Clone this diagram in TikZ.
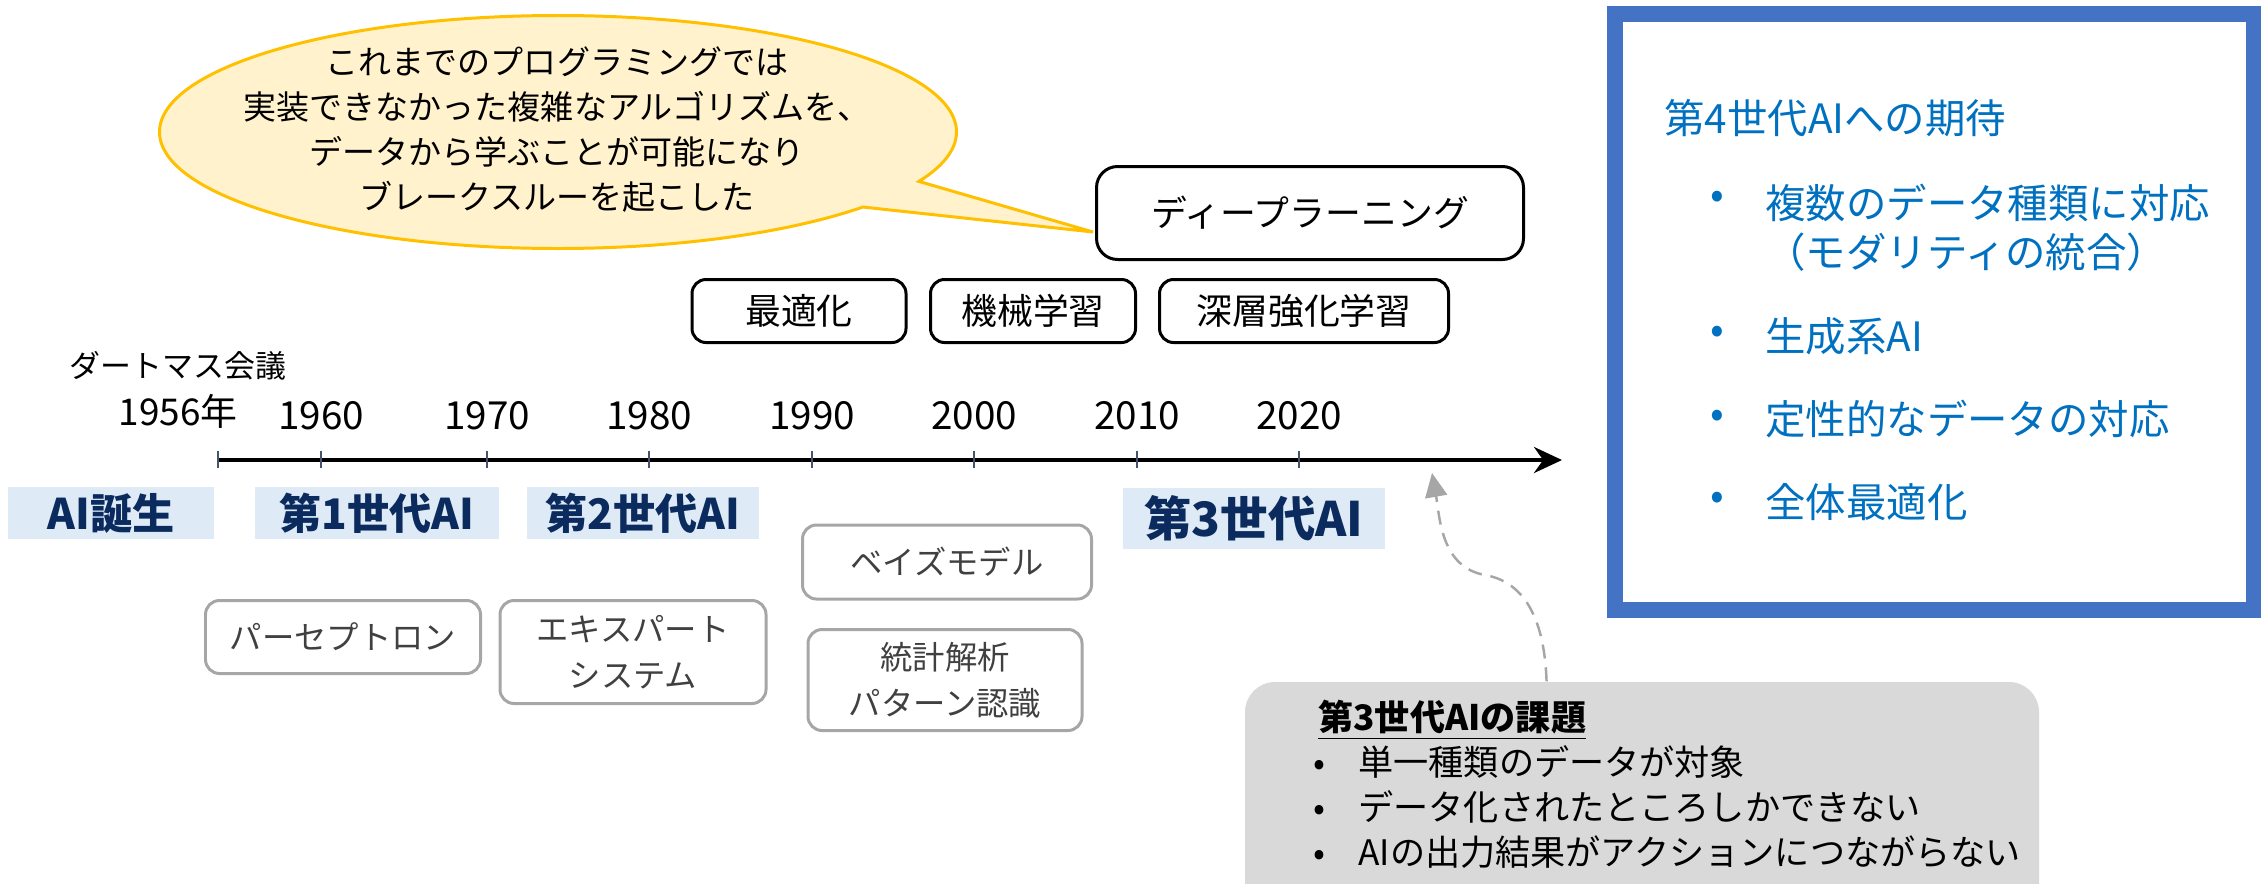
\documentclass[tikz,border=0pt]{standalone}
\usepackage{fontspec}
\setmainfont{Noto Sans CJK JP}
\usepackage{tikz}
\usetikzlibrary{
  arrows.meta,
  positioning,
  shapes.callouts,
  calc
}
\definecolor{bubblefill}{HTML}{FFF2CC}
\definecolor{bubbleline}{HTML}{FFC000}
\definecolor{erafill}{HTML}{DEEBF7}
\definecolor{eratext}{HTML}{0B2A5E}
\definecolor{methodline}{HTML}{A6A6A6}
\definecolor{methodtext}{HTML}{404040}
\definecolor{tickcol}{HTML}{44546A}
\definecolor{framecol}{HTML}{4472C4}
\definecolor{wishcol}{HTML}{0070C0}
\definecolor{issuefill}{HTML}{D9D9D9}
\definecolor{hintcol}{HTML}{A6A6A6}

\begin{document}
\begin{tikzpicture}[
  font=\fontsize{10}{12}\selectfont,
  bubble/.style={
    ellipse callout, draw=bubbleline, fill=bubblefill, line width=0.85pt,
    minimum width=7.97cm, minimum height=2.33cm, inner sep=0pt
  },
  bubbletext/.style={align=center, font=\fontsize{9.4}{12.8}\selectfont},
  topic/.style={
    rectangle, rounded corners=4pt, draw=black, line width=0.85pt,
    minimum height=0.63cm, inner sep=0pt, font=\fontsize{10.2}{12}\selectfont
  },
  era/.style={
    rectangle, fill=erafill, text=eratext, minimum height=0.52cm,
    inner sep=0pt, font=\fontsize{12}{14}\selectfont\bfseries
  },
  method/.style={
    rectangle, rounded corners=4pt, draw=methodline, line width=0.85pt,
    text=methodtext, align=center, inner sep=0pt,
    font=\fontsize{9.2}{13}\selectfont
  },
  year/.style={font=\fontsize{11}{13}\selectfont},
  tickmark/.style={draw=tickcol, line width=0.6pt},
  axis/.style={-{Stealth[length=0.28cm, width=0.26cm]}, line width=1.1pt, black},
  frame/.style={
    rectangle, draw=framecol, line width=0.16cm,
    minimum width=6.39cm, minimum height=5.96cm, inner sep=0pt
  },
  wish/.style={text=wishcol, font=\fontsize{11.5}{13.9}\selectfont, align=left, anchor=west},
  issue/.style={
    rectangle, rounded corners=0.3cm, fill=issuefill,
    minimum width=7.94cm, minimum height=2.6cm
  },
  issueline/.style={font=\fontsize{10}{12}\selectfont, anchor=base west},
  hint/.style={
    -{Triangle[length=0.24cm, width=0.22cm]}, draw=hintcol, line width=0.7pt,
    dash pattern=on 4pt off 2.5pt
  },
]
\useasboundingbox (0,0) rectangle (22.61,-8.83);

% Deep learning and the speech bubble
\node[topic, minimum width=4.27cm, minimum height=0.93cm, rounded corners=6pt] (dl) at (13.10,-2.13) {ディープラーニング};
\coordinate (tip) at (10.93,-2.32);
\node[bubble, callout absolute pointer={(tip)}] (bub) at (5.58,-1.32) {};
\node[bubbletext] (bubtxt) at (5.57,-1.30)
  {これまでのプログラミングでは\\
   実装できなかった複雑なアルゴリズムを、\\
   データから学ぶことが可能になり\\
   ブレークスルーを起こした};

% Topics (top row)
\node[topic, minimum width=2.14cm] (opt) at (7.99,-3.11) {最適化};
\node[topic, minimum width=2.05cm] (ml)  at (10.33,-3.11) {機械学習};
\node[topic, minimum width=2.89cm] (drl) at (13.04,-3.11) {深層強化学習};

% Timeline
\coordinate (t0) at (2.18,-4.60);
\coordinate (tend) at (15.62,-4.60);
\draw[axis] (t0) -- (tend);
\draw[tickmark] (2.18,-4.51) -- (2.18,-4.68);
\node[font=\fontsize{8.8}{10}\selectfont] (dartmouth) at (1.78,-3.66) {ダートマス会議};
\node[font=\fontsize{10.5}{12}\selectfont] (y1956) at (1.78,-4.11) {1956年};
\foreach \yr/\x in {1960/3.21, 1970/4.87, 1980/6.49, 1990/8.12, 2000/9.74, 2010/11.37, 2020/12.99} {
  \draw[tickmark] (\x,-4.51) -- (\x,-4.68);
  \node[year] (y\yr) at (\x,-4.16) {\yr};
}

% Eras
\node[era, minimum width=2.05cm] (birth) at (1.11,-5.13) {AI誕生};
\node[era, minimum width=2.44cm] (gen1)  at (3.77,-5.13) {第1世代AI};
\node[era, minimum width=2.32cm] (gen2)  at (6.43,-5.13) {第2世代AI};
\node[era, minimum width=2.62cm, minimum height=0.61cm, font=\fontsize{13.5}{15}\selectfont\bfseries] (gen3) at (12.54,-5.18) {第3世代AI};

% Methods
\node[method, minimum width=2.75cm, minimum height=0.73cm] (perc)  at (3.43,-6.37) {パーセプトロン};
\node[method, minimum width=2.66cm, minimum height=1.03cm] (exp)   at (6.33,-6.52) {エキスパート\\システム};
\node[method, minimum width=2.89cm, minimum height=0.74cm] (bayes) at (9.47,-5.62) {ベイズモデル};
\node[method, minimum width=2.74cm, minimum height=1.01cm] (stat)  at (9.45,-6.80) {統計解析\\パターン認識};

% Expectations for the 4th generation
\node[frame] (expect) at (19.345,-3.12) {};
\node[wish] (wtitle) at (16.52,-1.18) {第4世代AIへの期待};
\foreach \yy/\nm in {2.00/b1, 3.35/b2, 4.19/b3, 5.01/b4} {
  \node[text=wishcol, font=\fontsize{11.5}{13.9}\selectfont] (\nm) at (17.17,-\yy) {•};
}
\node[wish] (w1) at (17.53,-2.275) {複数のデータ種類に対応\\（モダリティの統合）};
\node[wish] (w2) at (17.53,-3.36) {生成系AI};
\node[wish] (w3) at (17.53,-4.19) {定性的なデータの対応};
\node[wish] (w4) at (17.53,-5.02) {全体最適化};

% Issues of the 3rd generation
\node[issue] (iss) at (16.42,-8.12) {};
\node[issueline] (isstitle) at (13.06,-7.30) {\underline{\bfseries 第3世代AIの課題}};
\node[issueline] (iss1) at (13.01,-7.75) {\makebox[0.45cm][l]{•}単一種類のデータが対象};
\node[issueline] (iss2) at (13.01,-8.20) {\makebox[0.45cm][l]{•}データ化されたところしかできない};
\node[issueline] (iss3) at (13.01,-8.65) {\makebox[0.45cm][l]{•}AIの出力結果がアクションにつながらない};

% Dashed hint back to the timeline
\coordinate (hintstart) at ($(iss.north west)!0.38!(iss.north east)$);
\coordinate (hintbend) at (14.85,-5.75);
\coordinate (hintend) at (14.32,-4.73);
\draw[hint] (hintstart) to[out=92, in=-10] (hintbend) to[out=170, in=-80] (hintend);

\end{tikzpicture}
\end{document}
